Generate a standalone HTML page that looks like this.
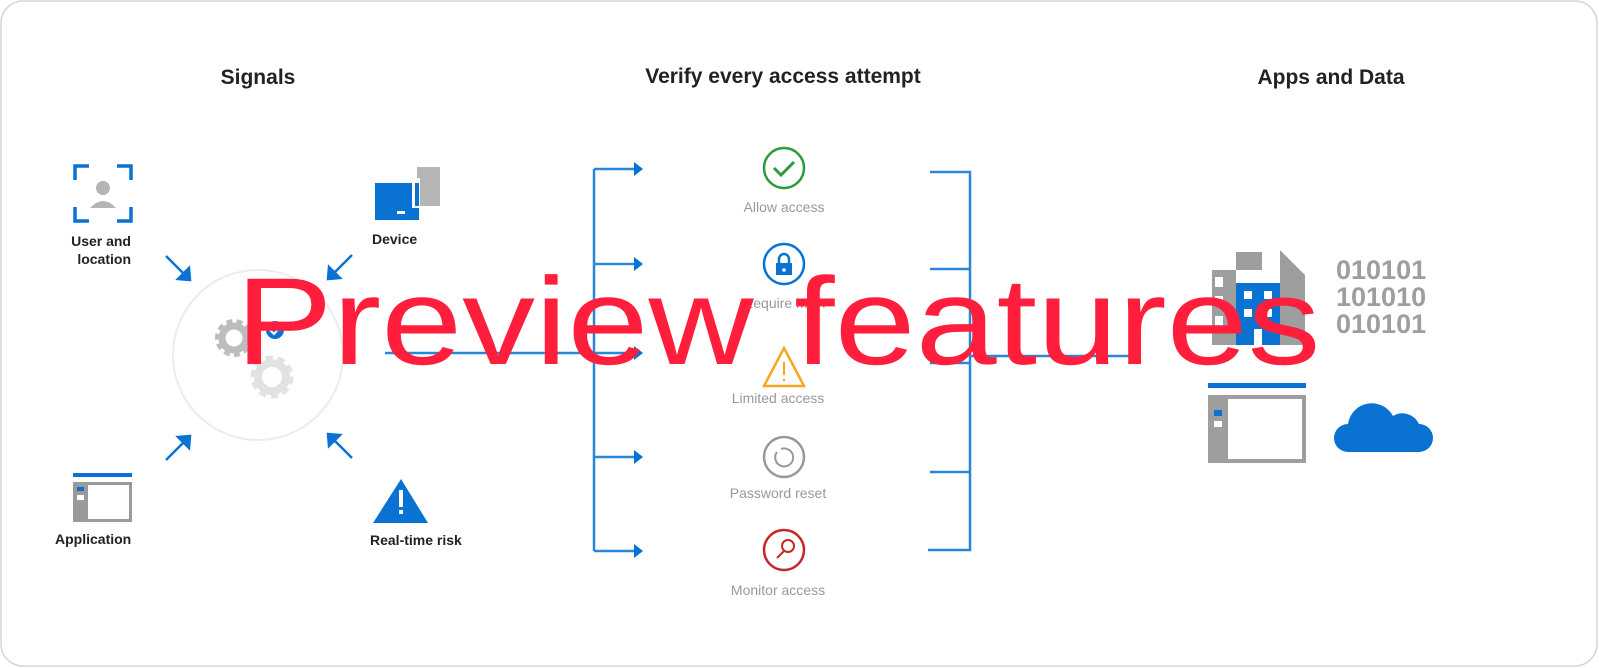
<!DOCTYPE html>
<html><head><meta charset="utf-8"><style>
html,body{margin:0;padding:0;background:#fff;}
svg{display:block;}
text{font-family:"Liberation Sans",sans-serif;}
</style></head><body>
<svg width="1599" height="668" viewBox="0 0 1599 668">
<rect x="1" y="1" width="1596" height="665" rx="22" fill="#fff" stroke="#d6d6d6" stroke-width="1.5"/>
<g font-size="21" font-weight="bold" fill="#222" text-anchor="middle">
<text x="258" y="84">Signals</text>
<text x="783" y="83">Verify every access attempt</text>
<text x="1331" y="84">Apps and Data</text>
</g>
<g stroke="#0a72d3" stroke-width="3.5" fill="none">
<path d="M75 180V166H89M117 166H131V180M75 207V221H89M117 221H131V207"/>
</g>
<circle cx="103" cy="188" r="7" fill="#b5b5b5"/>
<path d="M90 208q13-14 26 0z" fill="#b5b5b5"/>
<g font-size="14" font-weight="bold" fill="#222">
<text x="131" y="246" text-anchor="end">User and</text>
<text x="131" y="264" text-anchor="end">location</text>
<text x="372" y="244">Device</text>
<text x="55" y="544">Application</text>
<text x="370" y="545">Real-time risk</text>
</g>
<rect x="417" y="167" width="23" height="39" fill="#b5b5b5"/>
<rect x="375" y="183" width="44" height="37" fill="#0a72d3"/>
<rect x="412" y="178" width="8" height="30" fill="#fff"/>
<rect x="415" y="183" width="4" height="23" fill="#0a72d3"/>
<rect x="397" y="211" width="8" height="3" fill="#fff"/>
<rect x="73" y="473" width="59" height="4" fill="#0a72d3"/>
<rect x="73" y="482" width="59" height="40" fill="#9a9a9a"/>
<rect x="88" y="485" width="41" height="34" fill="#fff"/>
<rect x="77" y="495" width="7" height="5" fill="#fff"/>
<rect x="77" y="487" width="7" height="4" fill="#0a72d3"/>
<path d="M401 479L428 523H373Z" fill="#0a72d3"/>
<rect x="399" y="490" width="4" height="17" fill="#fff"/>
<rect x="399" y="510" width="4" height="4" fill="#fff"/>
<g stroke="#0a72d3" stroke-width="2.5" fill="#0a72d3">
<line x1="166" y1="256" x2="186" y2="276"/><path d="M190 280L178 279L189 268Z"/>
<line x1="352" y1="255" x2="332" y2="275"/><path d="M328 279L329 267L340 278Z"/>
<line x1="166" y1="460" x2="186" y2="440"/><path d="M190 436L189 448L178 437Z"/>
<line x1="352" y1="458" x2="332" y2="438"/><path d="M328 434L340 435L329 446Z"/>
</g>
<circle cx="258" cy="355" r="85" fill="#fff" stroke="#ececec" stroke-width="2"/>
<circle cx="234" cy="338" r="14" fill="none" stroke="#bdbdbd" stroke-width="10" stroke-dasharray="5 3.5"/>
<circle cx="234" cy="338" r="12" fill="none" stroke="#bdbdbd" stroke-width="7"/>
<circle cx="272" cy="377" r="16" fill="none" stroke="#e2e2e2" stroke-width="11" stroke-dasharray="6 4"/>
<circle cx="272" cy="377" r="14" fill="none" stroke="#e2e2e2" stroke-width="8"/>
<circle cx="275" cy="330" r="9" fill="#0a72d3"/>
<path d="M270 330l4 4l6-7" stroke="#fff" stroke-width="2" fill="none"/>
<g stroke="#2a86d8" stroke-width="2.5" fill="none">
<line x1="385" y1="353" x2="594" y2="353"/>
<path d="M594 169V551"/>
<line x1="594" y1="169" x2="634" y2="169"/><line x1="594" y1="264" x2="634" y2="264"/>
<line x1="594" y1="353" x2="634" y2="353"/><line x1="594" y1="457" x2="634" y2="457"/>
<line x1="594" y1="551" x2="634" y2="551"/>
<path d="M930 172H970V550H928M930 269H970M930 363H970M930 472H970M970 356H1140"/>
</g>
<g fill="#0a72d3">
<path d="M634 162L643 169L634 176Z"/><path d="M634 257L643 264L634 271Z"/>
<path d="M634 346L643 353L634 360Z"/><path d="M634 450L643 457L634 464Z"/>
<path d="M634 544L643 551L634 558Z"/>
</g>
<circle cx="784" cy="168" r="20" fill="none" stroke="#2f9a3a" stroke-width="2.5"/>
<path d="M774 168l7 7l13-13" stroke="#2f9a3a" stroke-width="3" fill="none"/>
<circle cx="784" cy="264" r="20" fill="none" stroke="#0a72d3" stroke-width="2.5"/>
<rect x="776" y="263" width="16" height="12" fill="#0a72d3"/>
<path d="M779 264v-5a5 5 0 0 1 10 0v5" stroke="#0a72d3" stroke-width="2.5" fill="none"/>
<circle cx="784" cy="270" r="1.8" fill="#fff"/>
<path d="M784 348L804 386H764Z" fill="none" stroke="#f5a623" stroke-width="2.5"/>
<line x1="784" y1="362" x2="784" y2="375" stroke="#f5a623" stroke-width="2"/>
<circle cx="784" cy="380" r="1.3" fill="#f5a623"/>
<circle cx="784" cy="457" r="20" fill="none" stroke="#999" stroke-width="2.5"/>
<path d="M777 452a9 9 0 1 0 4-3" stroke="#999" stroke-width="2" fill="none"/>
<circle cx="784" cy="550" r="20" fill="none" stroke="#c62828" stroke-width="2.5"/>
<circle cx="788" cy="546" r="6" fill="none" stroke="#c62828" stroke-width="2"/>
<line x1="784" y1="551" x2="777" y2="558" stroke="#c62828" stroke-width="2"/>
<g font-size="14" fill="#999" text-anchor="middle">
<text x="784" y="212">Allow access</text>
<text x="784" y="308">Require MFA</text>
<text x="778" y="403">Limited access</text>
<text x="778" y="498">Password reset</text>
<text x="778" y="595">Monitor access</text>
</g>
<path d="M1236 252V345H1212V270H1262V252ZM1280 250L1305 275V345H1280Z" fill="#9e9e9e"/>
<rect x="1215" y="277" width="8" height="10" fill="#fff"/>
<rect x="1215" y="296" width="8" height="10" fill="#fff"/>
<rect x="1215" y="316" width="8" height="10" fill="#fff"/>
<rect x="1236" y="252" width="26" height="18" fill="#9e9e9e"/>
<rect x="1236" y="283" width="44" height="62" fill="#0a72d3"/>
<rect x="1244" y="291" width="8" height="8" fill="#fff"/>
<rect x="1264" y="291" width="8" height="8" fill="#fff"/>
<rect x="1244" y="309" width="8" height="8" fill="#fff"/>
<rect x="1264" y="309" width="8" height="8" fill="#fff"/>
<rect x="1254" y="329" width="8" height="16" fill="#fff"/>
<g font-size="27" font-weight="bold" fill="#9e9e9e">
<text x="1336" y="279">010101</text>
<text x="1336" y="306">101010</text>
<text x="1336" y="333">010101</text>
</g>
<rect x="1208" y="383" width="98" height="5" fill="#0a72d3"/>
<rect x="1208" y="395" width="98" height="68" fill="#9e9e9e"/>
<rect x="1228" y="399" width="74" height="60" fill="#fff"/>
<rect x="1214" y="410" width="8" height="6" fill="#0a72d3"/>
<rect x="1214" y="421" width="8" height="6" fill="#fff"/>
<path d="M1348 452a14 14 0 0 1 0-28a24 24 0 0 1 45-8a18 18 0 0 1 26 8a14 14 0 0 1 0 28Z" fill="#0a72d3"/>
<text x="778" y="364" font-size="124" fill="#ff1f3d" text-anchor="middle" textLength="1085" lengthAdjust="spacingAndGlyphs">Preview features</text>
</svg>
</body></html>
